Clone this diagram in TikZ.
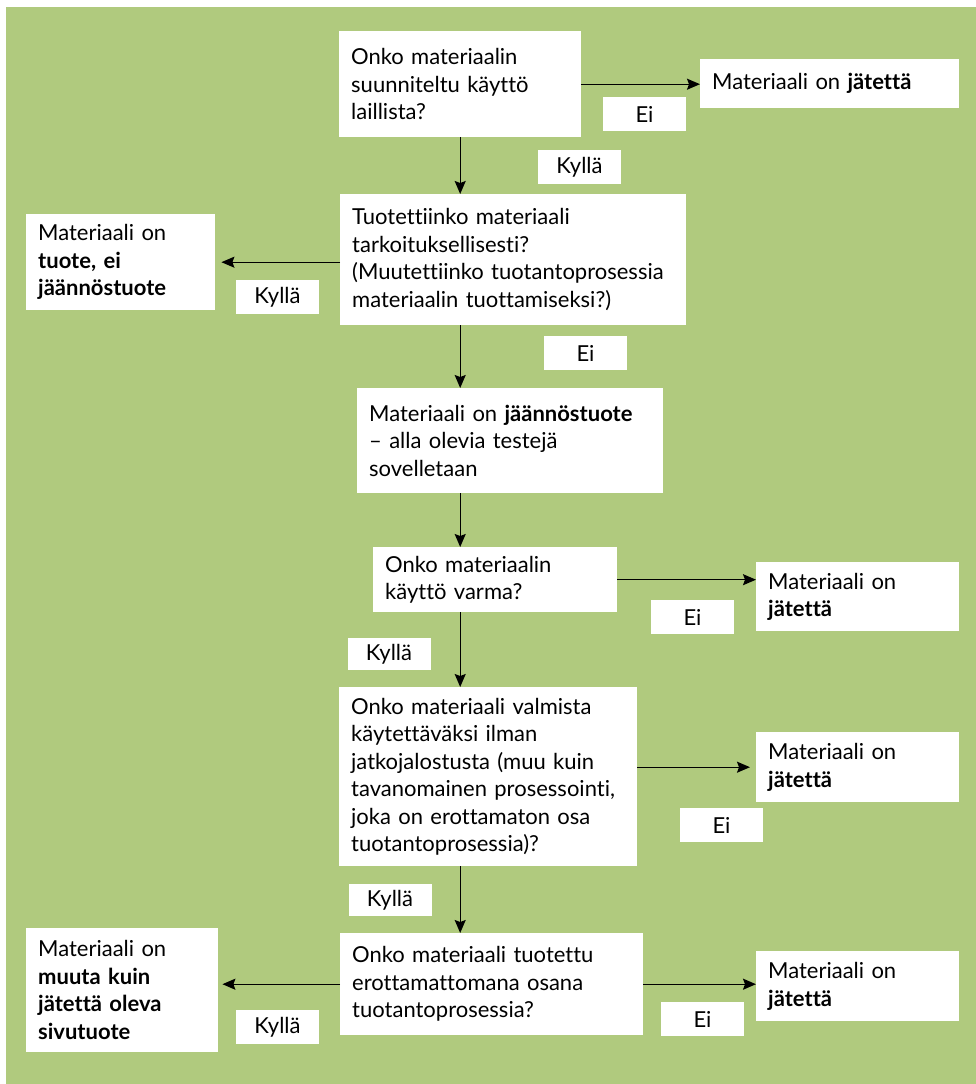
\documentclass[tikz,border=0pt]{standalone}
\usepackage{fontspec}
\setmainfont[Ligatures=NoCommon]{Lato}
\usetikzlibrary{arrows.meta}
\definecolor{leaf}{RGB}{176,202,126}
\tikzstyle{question}=[fill=white, anchor=north west, align=left, inner xsep=12pt, inner ysep=0pt, font=\fontsize{22}{27.5}\selectfont]
\tikzstyle{answer}=[fill=white, minimum width=83pt, minimum height=34pt, inner sep=0pt, font=\fontsize{22}{24}\selectfont]
\tikzstyle{flow}=[draw, line width=1.4pt, -{Stealth[length=13pt,width=11pt,inset=2pt]}]
\newcommand{\qnode}{\node[question]}
\newcommand{\anode}{\node[answer]}

\begin{document}
\begin{tikzpicture}[x=1pt, y=-1pt, every edge/.style=flow]
    \useasboundingbox (0,0) rectangle (976,1084);
    \fill[white] (0,0) rectangle (976,1084);
    \fill[leaf] (6,7) rectangle (976,1084);

    \qnode (q1) at (339,31) [text width=218pt, minimum height=106pt]
        {Onko materiaalin\\suunniteltu käyttö\\laillista?};
    \qnode (r1) at (700,59) [text width=235pt, minimum height=49pt]
        {Materiaali on \textbf{jätettä}};
    \qnode (q2) at (340,194) [text width=322pt, minimum height=131pt]
        {Tuotettiinko materiaali\\tarkoituksellisesti?\\(Muutettiinko tuotantoprosessia\\materiaalin tuottamiseksi?)};
    \qnode (l2) at (26,214) [text width=165pt, minimum height=96pt]
        {Materiaali on\\\textbf{tuote, ei}\\\textbf{jäännöstuote}};
    \qnode (j) at (357,388) [text width=282pt, minimum height=105pt]
        {Materiaali on \textbf{jäännöstuote}\\– alla olevia testejä\\sovelletaan};
    \qnode (q3) at (373,547) [text width=220pt, minimum height=65pt]
        {Onko materiaalin\\käyttö varma?};
    \qnode (r3) at (756,562) [text width=179pt, minimum height=69pt]
        {Materiaali on\\\textbf{jätettä}};
    \qnode (q4) at (339,687) [text width=274pt, minimum height=179pt]
        {Onko materiaali valmista\\käytettäväksi ilman\\jatkojalostusta (muu kuin\\tavanomainen prosessointi,\\joka on erottamaton osa\\tuotantoprosessia)?};
    \qnode (r4) at (756,732) [text width=179pt, minimum height=70pt]
        {Materiaali on\\\textbf{jätettä}};
    \qnode (q5) at (340,933) [text width=279pt, minimum height=102pt]
        {Onko materiaali tuotettu\\erottamattomana osana\\tuotantoprosessia?};
    \qnode (l5) at (26,928) [text width=168pt, minimum height=124pt]
        {Materiaali on\\\textbf{muuta kuin}\\\textbf{jätettä oleva}\\\textbf{sivutuote}};
    \qnode (r5) at (756,951) [text width=179pt, minimum height=70pt]
        {Materiaali on\\\textbf{jätettä}};

    \anode (ei1) at (644.5,114) {Ei};
    \anode (ky1) at (579.5,167) {Kyllä};
    \anode (ky2) at (277.5,297) {Kyllä};
    \anode (ei2) at (585.5,353) {Ei};
    \anode (ei3) at (692.5,617) {Ei};
    \anode (ky3) at (389,654) [minimum height=32pt] {Kyllä};
    \anode (ei4) at (721.5,825) {Ei};
    \anode (ky4) at (390,900) [minimum height=32pt] {Kyllä};
    \anode (ky5) at (277.5,1027) {Kyllä};
    \anode (ei5) at (702.5,1019) {Ei};

    \path
        (q1.east) edge (r1.west |- q1.east)
        (q1.south) edge (q2.north -| q1.south)
        (q2.west |- l2.east) edge[shorten >=6pt] (l2.east)
        (q2.south -| q1.south) edge (j.north -| q1.south)
        (j.south -| q1.south) edge (q3.north -| q1.south)
        (q3.east) edge (q3.east -| r3.west)
        (q3.south -| q1.south) edge (q4.north -| q1.south)
        (q4.east |- r4.west) edge[shorten >=6pt] (r4.west)
        (q4.south -| q1.south) edge (q5.north -| q1.south)
        (q5.east) edge (q5.east -| r5.west)
        (q5.west) edge[shorten >=4pt] (q5.west -| l5.east)
    ;
\end{tikzpicture}
\end{document}
